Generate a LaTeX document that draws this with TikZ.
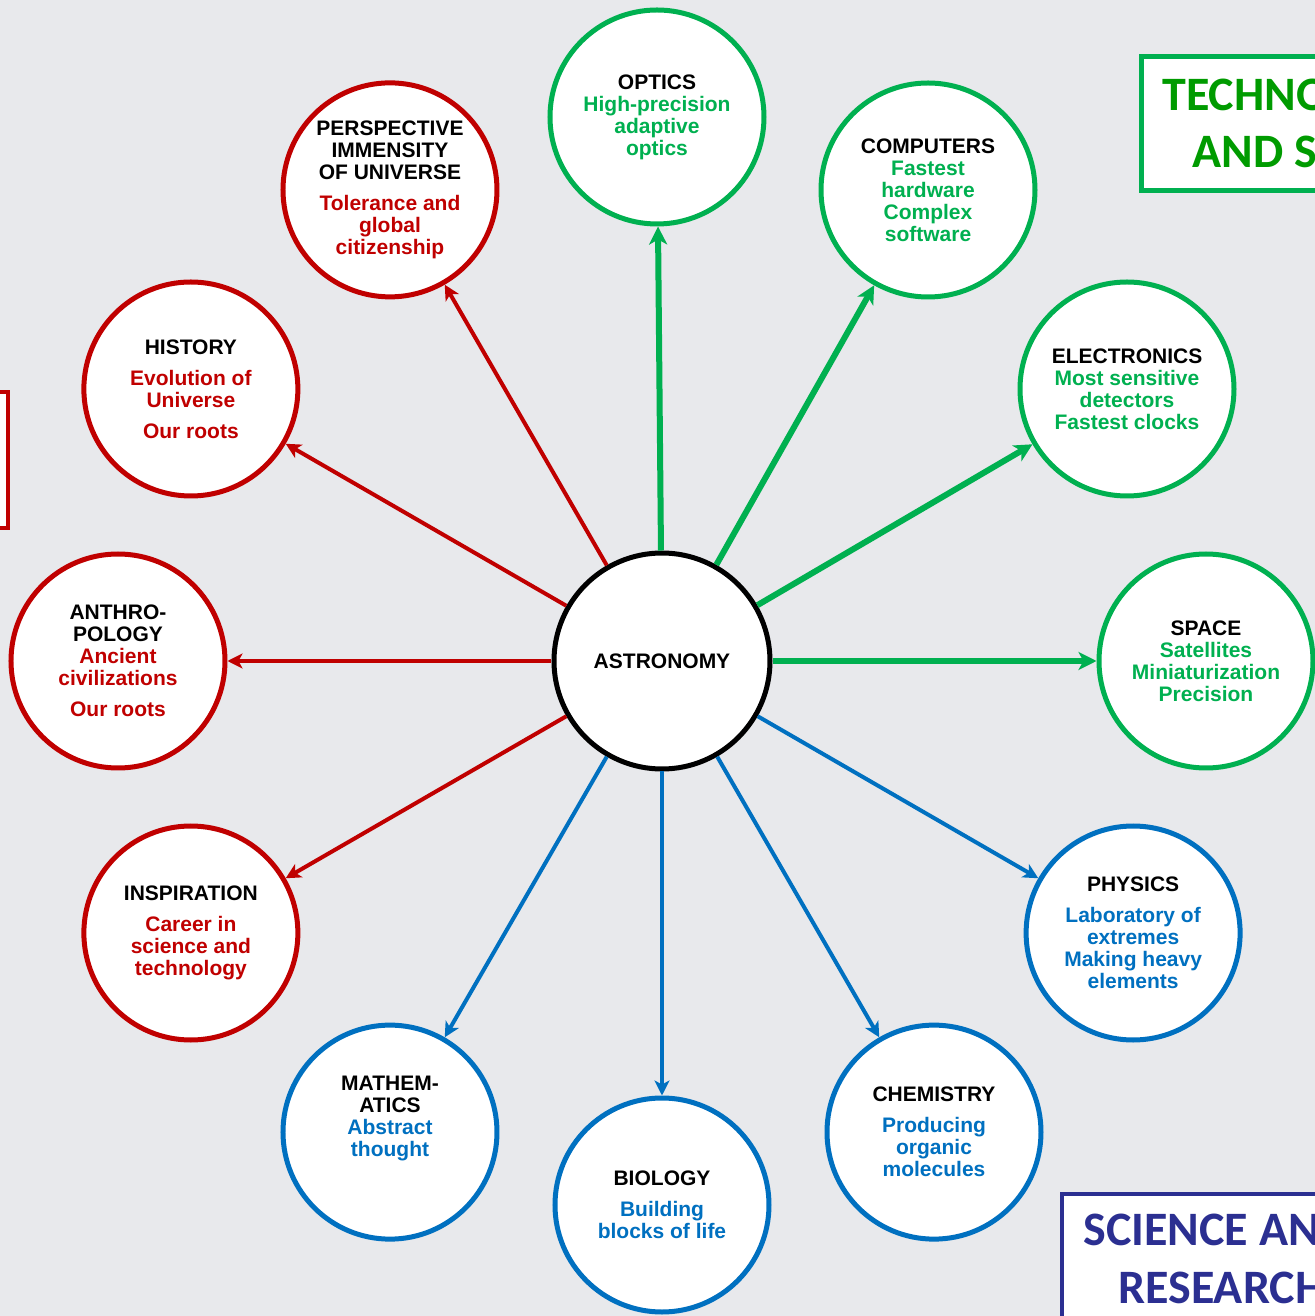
\documentclass[tikz,border=0pt]{standalone}
\usepackage{fontspec}
\setmainfont{Liberation Sans}
\newfontfamily\boxfont{Carlito}
\usetikzlibrary{arrows.meta}

\definecolor{redc}{RGB}{192,0,0}
\definecolor{greenc}{RGB}{0,176,80}
\definecolor{bluec}{RGB}{0,112,192}
\definecolor{greent}{RGB}{0,155,0}
\definecolor{navyc}{RGB}{43,47,145}
\definecolor{bgc}{RGB}{232,233,236}

% black heading inside a coloured circle
\newcommand\hd[1]{\textcolor{black}{#1}}

\begin{document}
\begin{tikzpicture}
[font=\fontsize{10.5}{11}\selectfont\bfseries, inner sep=0pt,
site/.style={draw=#1, text=#1, circle, line width=2.5pt, fill=white, minimum size=107pt, align=center},
link/.style={line width=2pt, -{Stealth[length=7.5pt, width=7.5pt, inset=2pt]}},
thick link/.style={line width=3pt, -{Stealth[length=9pt, width=9pt, inset=2.5pt]}},
boxtext/.style={anchor=base west, font=\boxfont\fontsize{24}{29}\selectfont\bfseries}
]

% page and background
\useasboundingbox (-331pt,-327.5pt) rectangle (326.5pt,330.5pt);
\clip (-331pt,-327.5pt) rectangle (326.5pt,330.5pt);
\fill[bgc] (-331pt,-327.5pt) rectangle (326.5pt,330.5pt);

% side boxes
\draw[redc, line width=2pt, fill=white] (-340pt,134.5pt) rectangle (-327pt,66.5pt);
\draw[greenc, line width=2.5pt, fill=white] (239.5pt,302pt) rectangle (370pt,235pt);
\draw[navyc, line width=2pt, fill=white] (200pt,-266.5pt) rectangle (370pt,-340pt);
\node[boxtext, greent] (tech1) at (250pt,275pt) {TECHNO};
\node[boxtext, greent] (tech2) at (265pt,246.5pt) {AND S};
\node[boxtext, navyc] (sci1) at (210.5pt,-292pt) {SCIENCE AN};
\node[boxtext, navyc] (sci2) at (228pt,-321pt) {RESEARCH};

% hub
\node[site=black, minimum size=108pt] (ast) at (0,0) {ASTRONOMY};

% technology (green)
\node[site=greenc] (opt) at (-2.5pt,272pt) {\hd{OPTICS}\\High-precision\\adaptive\\optics};
\node[site=greenc] (comp) at (133pt,235.5pt) {\hd{COMPUTERS}\\Fastest\\hardware\\Complex\\software};
\node[site=greenc] (elec) at (232.5pt,136pt) {\hd{ELECTRONICS}\\Most sensitive\\detectors\\Fastest clocks};
\node[site=greenc] (spc) at (0:272pt) {\hd{SPACE}\\Satellites\\Miniaturization\\Precision};

% science (blue)
\node[site=bluec] (phys) at (-30:272pt) {\hd{PHYSICS}\\[4.5pt]Laboratory of\\extremes\\Making heavy\\elements};
\node[site=bluec] (chem) at (-60:272pt) {\hd{CHEMISTRY}\\[4.5pt]Producing\\organic\\molecules};
\node[site=bluec] (bio) at (-90:272pt) {\hd{BIOLOGY}\\[4.5pt]Building\\blocks of life};
\node[site=bluec] (math) at (-120:272pt) {\hd{MATHEM-}\\\hd{ATICS}\\Abstract\\thought\\[5pt]\mbox{}};

% culture (red)
\node[site=redc] (insp) at (210:272pt) {\hd{INSPIRATION}\\[4.5pt]Career in\\science and\\technology};
\node[site=redc] (anth) at (180:272pt) {\hd{ANTHRO-}\\\hd{POLOGY}\\Ancient\\civilizations\\[4.5pt]Our roots};
\node[site=redc] (hist) at (150:272pt) {\hd{HISTORY}\\[4.5pt]Evolution of\\Universe\\[4.5pt]Our roots};
\node[site=redc] (persp) at (120:272pt) {\hd{PERSPECTIVE}\\\hd{IMMENSITY}\\\hd{OF UNIVERSE}\\[4.5pt]Tolerance and\\global\\citizenship};

% spokes
\foreach \t in {opt,comp,elec,spc}
  \draw[thick link, greenc] (ast) -- (\t);
\foreach \t in {phys,chem,bio,math}
  \draw[link, bluec] (ast) -- (\t);
\foreach \t in {insp,anth,hist,persp}
  \draw[link, redc] (ast) -- (\t);

\end{tikzpicture}
\end{document}
